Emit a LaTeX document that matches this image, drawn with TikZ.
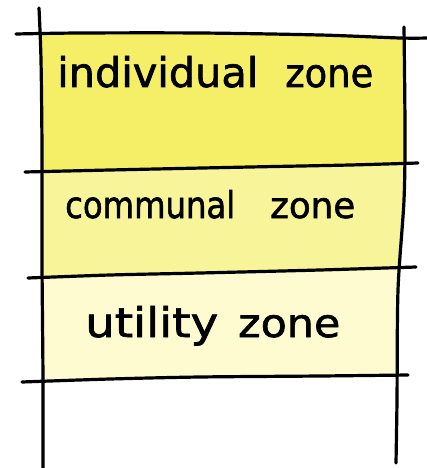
\documentclass[tikz,border=0pt]{standalone}
\usepackage{fontspec}
\setmainfont[FakeBold=1.6]{DejaVu Sans}
\definecolor{zoneA}{RGB}{245,239,104}
\definecolor{zoneB}{RGB}{248,244,154}
\definecolor{zoneC}{RGB}{254,251,208}
\newcommand{\wordbox}[3]{\resizebox{#1pt}{#2pt}{#3}}
\tikzset{
  ink/.style={line width=3.2pt, line cap=round, line join=round, black},
  zonetext/.style={inner sep=0pt, anchor=base west}
}
\begin{document}
\begin{tikzpicture}[x=1pt,y=-1pt]
\useasboundingbox (0,0) rectangle (427,468);
\fill[white] (0,0) rectangle (427,468);
% fills
\fill[zoneA] (41,34) -- (200,33) -- (405,37) -- (405,164) -- (250,167) -- (42,172) -- cycle;
\fill[zoneB] (42,172) -- (250,167) -- (405,164) -- (400,267) -- (200,273) -- (42,278) -- cycle;
\fill[zoneC] (42,278) -- (200,273) -- (400,267) -- (397,375) -- (200,377) -- (43,382) -- cycle;
% vertical lines
\draw[ink] plot[smooth] coordinates {(39,8) (41,60) (42,150) (42,260) (43,380) (43,468)};
\draw[ink] plot[smooth] coordinates {(404,27) (405,130) (404,200) (398,290) (397,400) (396,463)};
% horizontal lines
\draw[ink] plot[smooth] coordinates {(16,34) (80,33) (200,33) (320,35) (400,38) (427,38)};
\draw[ink] plot[smooth] coordinates {(25,172) (110,170) (250,167) (350,165) (418,163)};
\draw[ink] plot[smooth] coordinates {(28,278) (110,275) (200,273) (320,270) (416,267)};
\draw[ink] plot[smooth] coordinates {(22,382) (110,379) (200,377) (320,376) (408,375)};
% texts
\node[zonetext] (ind) at (57,87) {\wordbox{201}{31}{individual}\hspace{27pt}\wordbox{88}{22}{zone}};
\node[zonetext] (com) at (65,218) {\wordbox{170}{28}{communal}\hspace{35pt}\wordbox{85}{20}{zone}};
\node[zonetext] (uti) at (85,337) {\wordbox{133}{31}{utility}\hspace{20pt}\wordbox{102}{22}{zone}};
\end{tikzpicture}
\end{document}
